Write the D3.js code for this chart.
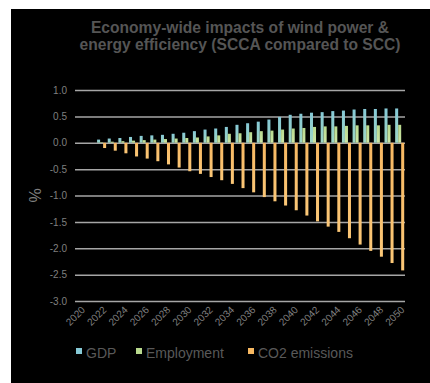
<!DOCTYPE html>
<html>
<head>
<meta charset="utf-8">
<script src="https://cdn.jsdelivr.net/npm/d3@7"></script>
<style>
  html, body { margin: 0; padding: 0; background: #fff; }
  svg { display: block; font-family: "Liberation Sans", Arial, sans-serif; }
</style>
</head>
<body>
<div id="chart"></div>
<script>
const years = d3.range(2020, 2051).map(String);
const gdp = [0, 0, 0.06, 0.08, 0.09, 0.11, 0.13, 0.14, 0.15, 0.17, 0.19, 0.22, 0.25, 0.27,
  0.30, 0.34, 0.37, 0.40, 0.44, 0.49, 0.53, 0.55, 0.57, 0.58, 0.60, 0.61, 0.63, 0.64, 0.64, 0.65, 0.65];
const employment = [0, 0, 0.01, 0.02, 0.03, 0.04, 0.05, 0.06, 0.07, 0.08, 0.09, 0.10, 0.12, 0.14,
  0.17, 0.18, 0.20, 0.22, 0.23, 0.25, 0.27, 0.28, 0.30, 0.31, 0.31, 0.32, 0.33, 0.33, 0.33, 0.34, 0.34];
const co2 = [0, 0, -0.10, -0.15, -0.20, -0.26, -0.30, -0.35, -0.41, -0.47, -0.54, -0.59, -0.65, -0.71,
  -0.78, -0.86, -0.94, -1.03, -1.11, -1.19, -1.28, -1.38, -1.49, -1.59, -1.69, -1.81, -1.93, -2.05, -2.16, -2.28, -2.42];
const seriesNames = ["GDP", "Employment", "CO2 emissions"];
const seriesColors = ["#86c9d6", "#b9da8e", "#f7b862"];
const seriesColorsLight = ["#9ed6c4", "#cde6a6", "#fbc777"];
const yTicks = [-3, -2.5, -2, -1.5, -1, -0.5, 0, 0.5, 1];
const titleLines = ["Economy-wide impacts of wind power &", "energy efficiency (SCCA compared to SCC)"];

const width = 430, height = 383;
const plot = { left: 75, right: 405, top: 90, bottom: 301 };

const svg = d3.select("#chart").append("svg")
    .attr("width", width)
    .attr("height", height);

// soft gradients like the spreadsheet fills
const defs = svg.append("defs");
seriesNames.forEach((name, k) => {
    const g = defs.append("linearGradient")
        .attr("id", "grad" + k)
        .attr("x1", 0).attr("x2", 0).attr("y1", 0).attr("y2", 1);
    g.append("stop").attr("offset", "0%").attr("stop-color", k === 2 ? seriesColors[k] : seriesColors[k]);
    g.append("stop").attr("offset", "100%").attr("stop-color", seriesColorsLight[k]);
});

svg.append("rect")
    .attr("x", 11).attr("y", 9)
    .attr("width", width - 11).attr("height", height - 9)
    .attr("fill", "#000");

// title
svg.append("text")
    .attr("x", 240).attr("y", 33)
    .attr("text-anchor", "middle")
    .attr("fill", "#555")
    .attr("font-size", 15.6)
    .attr("font-weight", "bold")
    .selectAll("tspan")
    .data(titleLines)
    .join("tspan")
    .attr("x", 240)
    .attr("dy", (d, i) => i ? 17 : 0)
    .text(d => d);

const x0 = d3.scaleBand()
    .domain(years)
    .range([plot.left, plot.right])
    .paddingInner(0.15)
    .paddingOuter(0.075);
const x1 = d3.scaleBand()
    .domain(seriesNames)
    .range([0, x0.bandwidth()]);
const y = d3.scaleLinear()
    .domain([-3, 1])
    .range([plot.bottom, plot.top]);

// y axis with grid
const yAxis = d3.axisLeft(y)
    .tickValues(yTicks)
    .tickSize(-(plot.right - plot.left))
    .tickPadding(8)
    .tickFormat(d => d.toFixed(1));
const yAxisGroup = svg.append("g")
    .attr("transform", `translate(${plot.left},0)`)
    .call(yAxis);
yAxisGroup.select(".domain").remove();
yAxisGroup.selectAll(".tick line")
    .attr("stroke", "#a6a6a6")
    .attr("stroke-width", 1.5);
yAxisGroup.selectAll(".tick text")
    .attr("fill", "#7f7f7f")
    .attr("font-size", 10)
    .attr("font-family", "Liberation Sans, Arial, sans-serif");

svg.append("text")
    .attr("transform", `translate(41,${y(-1)}) rotate(-90)`)
    .attr("text-anchor", "middle")
    .attr("fill", "#7f7f7f")
    .attr("font-size", 16)
    .text("%");

// bars
const rows = years.map((yr, i) => ({ year: yr, values: [gdp[i], employment[i], co2[i]] }));
const groups = svg.append("g").selectAll("g")
    .data(rows)
    .join("g")
    .attr("transform", d => `translate(${x0(d.year)},0)`);
groups.selectAll("rect")
    .data(d => d.values.map((v, k) => ({ key: seriesNames[k], value: v, k })))
    .join("rect")
    .attr("x", d => x1(d.key))
    .attr("width", x1.bandwidth())
    .attr("y", d => y(Math.max(0, d.value)))
    .attr("height", d => Math.abs(y(d.value) - y(0)))
    .attr("fill", d => `url(#grad${d.k})`);

// x axis labels
const xAxis = d3.axisBottom(x0)
    .tickValues(years.filter((d, i) => i % 2 === 0))
    .tickSize(0);
const xAxisGroup = svg.append("g")
    .attr("transform", `translate(0,${plot.bottom + 4})`)
    .call(xAxis);
xAxisGroup.select(".domain").remove();
xAxisGroup.selectAll(".tick text")
    .attr("fill", "#7f7f7f")
    .attr("font-size", 10)
    .attr("font-family", "Liberation Sans, Arial, sans-serif")
    .attr("text-anchor", "end")
    .attr("dy", "0.35em")
    .attr("y", 0)
    .attr("x", 0)
    .attr("transform", "translate(3,3) rotate(-45)");

// legend
const legendX = [76, 136, 248];
const legend = svg.append("g").selectAll("g")
    .data(seriesNames)
    .join("g")
    .attr("transform", (d, i) => `translate(${legendX[i]},353)`);
legend.append("rect")
    .attr("x", 0).attr("y", -5)
    .attr("width", 6).attr("height", 6)
    .attr("fill", (d, i) => seriesColors[i]);
legend.append("text")
    .attr("x", 10).attr("y", 0)
    .attr("dy", "0.35em")
    .attr("fill", "#595959")
    .attr("font-size", 14)
    .text(d => d);
</script>
</body>
</html>
